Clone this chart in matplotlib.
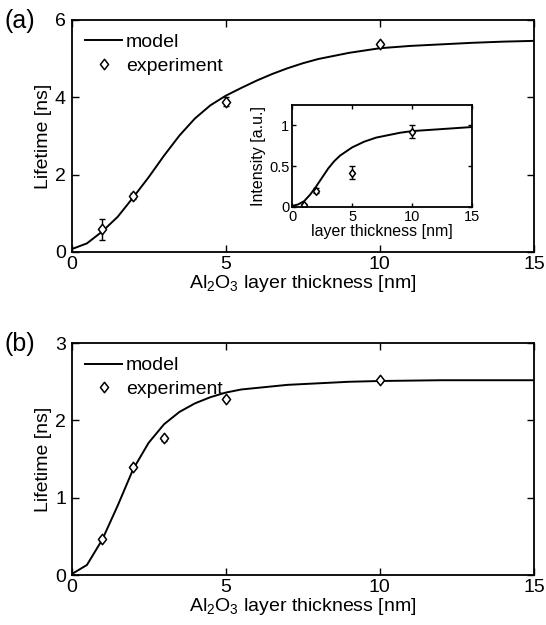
"""Lifetime vs Al2O3 layer thickness — two panels with inset."""
import matplotlib
matplotlib.use("Agg")
import matplotlib.pyplot as plt
from matplotlib.path import Path

plt.rcParams["font.family"] = ["Liberation Sans", "DejaVu Sans"]
plt.rcParams["mathtext.fontset"] = "custom"
plt.rcParams["mathtext.rm"] = "Liberation Sans"
plt.rcParams["mathtext.it"] = "Liberation Sans"
plt.rcParams["mathtext.default"] = "regular"

# ── Data ──────────────────────────────────────────────────────────────────────
# panel (a) model curve
model_a_x = [0, 0.5, 1, 1.5, 2, 2.5, 3, 3.5, 4, 4.5, 5, 5.5, 6, 6.5, 7, 7.5, 8,
             9, 10, 11, 12, 13, 14, 15]
model_a_y = [0.07, 0.22, 0.53, 0.91, 1.41, 1.93, 2.49, 3.01, 3.45, 3.79, 4.04, 4.24,
             4.43, 4.60, 4.75, 4.88, 4.99, 5.15, 5.27, 5.33, 5.37, 5.41, 5.44, 5.46]
# panel (a) experiment
exp_a_x = [1, 2, 5, 10]
exp_a_y = [0.58, 1.45, 3.89, 5.38]
exp_a_err = [0.26, 0.07, 0.12, 0.05]

# inset model / experiment
model_i_x = [0, 0.5, 1, 1.5, 2, 2.5, 3, 3.5, 4, 4.5, 5, 6, 7, 8, 9, 10, 12, 15]
model_i_y = [0.01, 0.03, 0.07, 0.15, 0.25, 0.36, 0.47, 0.56, 0.63, 0.68, 0.73, 0.80,
             0.85, 0.88, 0.91, 0.93, 0.95, 0.98]
exp_i_x = [1, 2, 5, 10]
exp_i_y = [0.02, 0.20, 0.42, 0.92]
exp_i_err = [0.02, 0.03, 0.08, 0.08]

# panel (b) model curve
model_b_x = [0, 0.5, 1, 1.5, 2, 2.5, 3, 3.5, 4, 4.5, 5, 5.5, 6,
             7, 8, 9, 10, 12, 15]
model_b_y = [0.01, 0.13, 0.46, 0.90, 1.37, 1.71, 1.95, 2.11, 2.22, 2.30, 2.36, 2.40, 2.42,
             2.46, 2.48, 2.50, 2.51, 2.52, 2.52]
# panel (b) experiment
exp_b_x = [1, 2, 3, 5, 10]
exp_b_y = [0.47, 1.40, 1.77, 2.28, 2.52]
exp_b_err = [0.02, 0.02, 0.03, 0.02, 0.02]

XLABEL = "Al$_2$O$_3$ layer thickness [nm]"

# open diamond slightly wider than matplotlib's 'd'
DIAMOND = Path([(0, 1), (0.78, 0), (0, -1), (-0.78, 0), (0, 1)],
               [Path.MOVETO, Path.LINETO, Path.LINETO, Path.LINETO, Path.CLOSEPOLY])


def style_axes(ax, fs):
    ax.tick_params(direction="in", top=True, right=True, length=5, width=1.0,
                   labelsize=fs)
    ax.tick_params(axis="x", pad=3)
    ax.tick_params(axis="y", pad=4)
    for s in ax.spines.values():
        s.set_linewidth(1.3)


def draw_panel(ax, mx, my, ex, ey, eerr, ms):
    ax.plot(mx, my, color="black", lw=1.4, label="model")
    ax.errorbar(ex, ey, yerr=eerr, fmt="none", ecolor="black", elinewidth=1.0,
                capsize=2.5, capthick=1.0)
    ax.plot(ex, ey, linestyle="none", marker=DIAMOND, markersize=ms,
            markerfacecolor="white", markeredgecolor="black", markeredgewidth=1.1,
            label="experiment")


def add_legend(ax):
    ax.legend(loc="upper left", frameon=False, fontsize=14, handlelength=1.9,
              handletextpad=0.2, borderaxespad=0.4, labelspacing=0.3,
              borderpad=0.3)


fig = plt.figure(figsize=(5.46, 6.25), dpi=100)

# ── Panel (a) ─────────────────────────────────────────────────────────────────
ax1 = fig.add_axes([0.131, 0.597, 0.847, 0.371])
draw_panel(ax1, model_a_x, model_a_y, exp_a_x, exp_a_y, exp_a_err, 7.5)
ax1.set_xlim(0, 15)
ax1.set_ylim(0, 6)
ax1.set_xticks([0, 5, 10, 15])
ax1.set_yticks([0, 2, 4, 6])
style_axes(ax1, 14)
ax1.set_ylabel("Lifetime [ns]", fontsize=14, labelpad=2)
ax1.set_xlabel(XLABEL, fontsize=14, labelpad=0)
add_legend(ax1)
fig.text(0.008, 0.966, "(a)", fontsize=18, va="center", ha="left")

# ── Inset ─────────────────────────────────────────────────────────────────────
axi = fig.add_axes([0.535, 0.669, 0.330, 0.163])
draw_panel(axi, model_i_x, model_i_y, exp_i_x, exp_i_y, exp_i_err, 5.5)
axi.set_xlim(0, 15)
axi.set_ylim(0, 1.25)
axi.set_xticks([0, 5, 10, 15])
axi.set_yticks([0, 0.5, 1])
axi.set_yticklabels(["0", "0.5", "1"])
style_axes(axi, 10.5)
axi.tick_params(length=3, pad=2)
axi.set_xlabel("layer thickness [nm]", fontsize=11.5, labelpad=0)
axi.set_ylabel("Intensity [a.u.]", fontsize=11.5, labelpad=2)

# ── Panel (b) ─────────────────────────────────────────────────────────────────
ax2 = fig.add_axes([0.131, 0.080, 0.847, 0.371])
draw_panel(ax2, model_b_x, model_b_y, exp_b_x, exp_b_y, exp_b_err, 7.5)
ax2.set_xlim(0, 15)
ax2.set_ylim(0, 3)
ax2.set_xticks([0, 5, 10, 15])
ax2.set_yticks([0, 1, 2, 3])
style_axes(ax2, 14)
ax2.set_ylabel("Lifetime [ns]", fontsize=14, labelpad=2)
ax2.set_xlabel(XLABEL, fontsize=14, labelpad=0)
add_legend(ax2)
fig.text(0.008, 0.450, "(b)", fontsize=18, va="center", ha="left")

fig.savefig("out.png", dpi=100, facecolor="white")
print("Saved out.png")
